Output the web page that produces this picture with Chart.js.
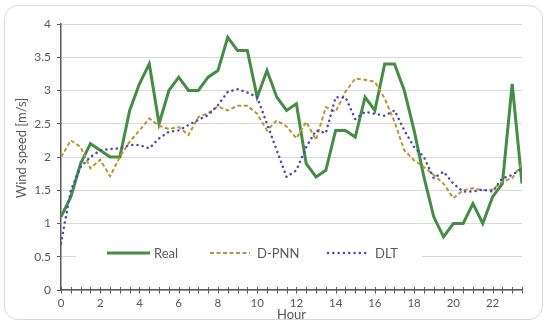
<!DOCTYPE html>
<html>
<head>
<meta charset="utf-8">
<script src="https://cdn.jsdelivr.net/npm/chart.js@4.4.1/dist/chart.umd.min.js"></script>
<style>
  html, body { margin: 0; padding: 0; background: #fff; }
  #frame { position: absolute; left: 4px; top: 5px; width: 537px; height: 313px; border: 1px solid #d9d9d9; border-radius: 14px; }
  #myChart { position: absolute; left: 0; top: 0; }
</style>
</head>
<body>
<div id="frame"></div>
<canvas id="myChart" width="550" height="331"></canvas>
<script>
const hours = [0, 0.5, 1, 1.5, 2, 2.5, 3, 3.5, 4, 4.5, 5, 5.5, 6, 6.5, 7, 7.5,
  8, 8.5, 9, 9.5, 10, 10.5, 11, 11.5, 12, 12.5, 13, 13.5, 14, 14.5, 15, 15.5,
  16, 16.5, 17, 17.5, 18, 18.5, 19, 19.5, 20, 20.5, 21, 21.5, 22, 22.5, 23, 23.5];

const real = [1.1, 1.4, 1.9, 2.2, 2.1, 2.0, 2.0, 2.7, 3.1, 3.4, 2.5, 3.0, 3.2, 3.0, 3.0, 3.2,
  3.3, 3.8, 3.6, 3.6, 2.9, 3.3, 2.9, 2.7, 2.8, 1.9, 1.7, 1.8, 2.4, 2.4, 2.3, 2.9,
  2.7, 3.4, 3.4, 3.0, 2.4, 1.7, 1.1, 0.8, 1.0, 1.0, 1.3, 1.0, 1.4, 1.6, 3.1, 1.6];

const dpnn = [2.0, 2.25, 2.15, 1.83, 1.96, 1.71, 2.0, 2.23, 2.4, 2.58, 2.47, 2.42, 2.45, 2.33, 2.6, 2.66,
  2.76, 2.7, 2.77, 2.77, 2.65, 2.4, 2.55, 2.46, 2.28, 2.53, 2.26, 2.75, 2.68, 2.98, 3.18, 3.16,
  3.13, 2.88, 2.53, 2.1, 1.95, 1.85, 1.73, 1.6, 1.38, 1.5, 1.53, 1.5, 1.51, 1.63, 1.68, 1.9];

const dlt = [0.7, 1.5, 1.85, 2.0, 2.1, 2.12, 2.13, 2.18, 2.18, 2.13, 2.28, 2.38, 2.4, 2.48, 2.56, 2.63,
  2.78, 2.98, 3.02, 2.97, 2.9, 2.5, 2.1, 1.7, 1.8, 2.15, 2.4, 2.36, 2.9, 2.9, 2.57, 2.68,
  2.65, 2.62, 2.7, 2.4, 2.15, 2.0, 1.68, 1.78, 1.6, 1.48, 1.48, 1.51, 1.48, 1.68, 1.73, 1.83];

const seriesNames = ["Real", "D-PNN", "DLT"];
const seriesColors = ["#468c46", "#b8963a", "#4b4bb4"];

const axisGray = "#595959";
const font = "Lato";

const toPoints = (vals) => vals.map((v, i) => ({ x: hours[i], y: v }));

// legend sits inside the plot, over the 0.5 gridline
const boxLegend = {
  id: "boxLegend",
  afterDatasetsDraw(chart) {
    const ctx = chart.ctx;
    const y = 253;
    ctx.save();
    ctx.fillStyle = "#fff";
    ctx.fillRect(76, 245, 346, 17);
    const items = [
      { x0: 107, x1: 150, tx: 154, w: 3, dash: [], cap: "butt" },
      { x0: 210, x1: 250, tx: 257, w: 2, dash: [4, 2.5], cap: "butt" },
      { x0: 328, x1: 370, tx: 375, w: 2.5, dash: [0.1, 5.2], cap: "round" },
    ];
    items.forEach((it, i) => {
      ctx.beginPath();
      ctx.setLineDash(it.dash);
      ctx.lineCap = it.cap;
      ctx.lineWidth = it.w;
      ctx.strokeStyle = seriesColors[i];
      ctx.moveTo(it.x0, y);
      ctx.lineTo(it.x1, y);
      ctx.stroke();
      ctx.setLineDash([]);
      ctx.fillStyle = axisGray;
      ctx.font = "13px " + font;
      ctx.textBaseline = "middle";
      ctx.fillText(seriesNames[i], it.tx, y + 1);
    });
    ctx.restore();
  },
};

// x ticks cross the axis line, y title drawn a little above centre like the original
const axisExtras = {
  id: "axisExtras",
  afterDraw(chart) {
    const sx = chart.scales.x;
    const y0 = chart.chartArea.bottom;
    const ctx = chart.ctx;
    ctx.save();
    ctx.strokeStyle = axisGray;
    ctx.lineWidth = 1;
    sx.ticks.forEach((t) => {
      const px = Math.round(sx.getPixelForValue(t.value)) + 0.5;
      ctx.beginPath();
      ctx.moveTo(px, y0 - 3);
      ctx.lineTo(px, y0 + 3.5);
      ctx.stroke();
    });
    ctx.translate(22, 148);
    ctx.rotate(-Math.PI / 2);
    ctx.fillStyle = axisGray;
    ctx.font = "13px " + font;
    ctx.textAlign = "center";
    ctx.textBaseline = "middle";
    ctx.fillText("Wind speed [m/s]", 0, 0);
    ctx.restore();
  },
};

const data = {
  datasets: [
    {
      label: seriesNames[0],
      data: toPoints(real),
      borderColor: seriesColors[0],
      borderWidth: 3,
      pointRadius: 0,
      tension: 0,
      order: 3,
    },
    {
      label: seriesNames[1],
      data: toPoints(dpnn),
      borderColor: seriesColors[1],
      borderWidth: 2,
      borderDash: [4, 2.5],
      pointRadius: 0,
      tension: 0,
      order: 2,
    },
    {
      label: seriesNames[2],
      data: toPoints(dlt),
      borderColor: seriesColors[2],
      borderWidth: 2.5,
      borderDash: [0.1, 5.2],
      borderCapStyle: "round",
      pointRadius: 0,
      tension: 0,
      order: 1,
    },
  ],
};

const config = {
  type: "line",
  data: data,
  options: {
    responsive: false,
    animation: false,
    layout: { padding: { left: 8, top: 24, right: 28, bottom: 4 } },
    plugins: { legend: { display: false }, tooltip: { enabled: false } },
    scales: {
      x: {
        type: "linear",
        min: 0,
        max: 23.5,
        afterFit: (s) => { s.height = 37; },
        ticks: {
          stepSize: 0.5,
          autoSkip: false,
          maxRotation: 0,
          padding: 6,
          color: axisGray,
          font: { family: font, size: 11.5 },
          callback: (v) => (v % 2 === 0 ? v : ""),
        },
        grid: { drawOnChartArea: false, drawTicks: false },
        border: { color: axisGray, width: 1.5 },
        title: {
          display: true,
          text: "Hour",
          color: axisGray,
          font: { family: font, size: 13 },
          padding: { top: 0, bottom: 4 },
        },
      },
      y: {
        min: 0,
        max: 4,
        afterFit: (s) => { s.width = 53; },
        ticks: {
          stepSize: 0.5,
          padding: 6,
          color: axisGray,
          font: { family: font, size: 12 },
          callback: (v) => String(v),
        },
        grid: { color: "#d9d9d9", tickColor: axisGray, tickLength: 4 },
        border: { color: axisGray, width: 1.5 },
      },
    },
  },
  plugins: [boxLegend, axisExtras],
};

const myChart = new Chart(document.getElementById("myChart"), config);
</script>
</body>
</html>
